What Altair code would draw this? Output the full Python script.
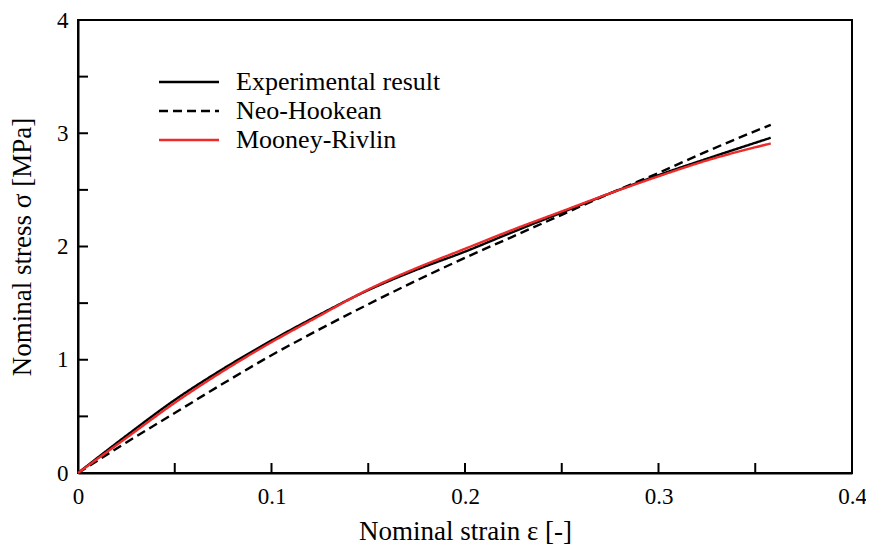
import altair as alt
import pandas as pd

strain = [0, 0.025, 0.05, 0.075, 0.1, 0.125, 0.15, 0.175, 0.2, 0.225, 0.25, 0.275, 0.3, 0.325, 0.358]
experimental = [0, 0.33, 0.645, 0.92, 1.17, 1.40, 1.615, 1.795, 1.955, 2.13, 2.30, 2.47, 2.63, 2.775, 2.96]
neo_hookean = [0, 0.27, 0.53, 0.79, 1.04, 1.27, 1.49, 1.70, 1.90, 2.09, 2.28, 2.47, 2.65, 2.84, 3.075]
mooney_rivlin = [0, 0.31, 0.62, 0.90, 1.155, 1.39, 1.62, 1.81, 1.98, 2.15, 2.31, 2.47, 2.62, 2.76, 2.91]

series_names = ["Experimental result", "Neo-Hookean", "Mooney-Rivlin"]
x_labels = [0, 0.1, 0.2, 0.3, 0.4]
y_labels = [0, 1, 2, 3, 4]
x_ticks = [0.05, 0.1, 0.15, 0.2, 0.25, 0.3, 0.35]
y_ticks = [0.5, 1, 1.5, 2, 2.5, 3, 3.5]

rows = []
for name, vals in zip(series_names, [experimental, neo_hookean, mooney_rivlin]):
    for s, v in zip(strain, vals):
        rows.append({"series": name, "strain": s, "stress": v})
df = pd.DataFrame(rows)

W, H = 774, 453
FONT = "'Liberation Serif', 'Times New Roman', serif"

xscale = alt.Scale(domain=[0, 0.4], nice=False, zero=False)
yscale = alt.Scale(domain=[0, 4], nice=False, zero=False)

xaxis = alt.Axis(values=x_labels, format=".1~f", title="Nominal strain ε [-]", ticks=False,
                 grid=False, domainColor="black", domainWidth=2, labelPadding=12,
                 labelFontSize=23, titleFontSize=27, titlePadding=10, labelColor="black",
                 titleColor="black", labelFont=FONT, titleFont=FONT, titleFontWeight="normal",
                 labelFlush=False)
yaxis = alt.Axis(values=y_labels, format="d", title="Nominal stress σ [MPa]", ticks=False,
                 grid=False, domainColor="black", domainWidth=2, labelPadding=10,
                 labelFontSize=23, titleFontSize=27, titlePadding=20, labelColor="black",
                 titleColor="black", labelFont=FONT, titleFont=FONT, titleFontWeight="normal",
                 labelFlush=False)

color_scale = alt.Scale(domain=series_names, range=["black", "black", "#ee2a2a"])
dash_scale = alt.Scale(domain=series_names, range=[[1, 0], [9, 5], [1, 0]])

leg = alt.Legend(title=None, orient="none", legendX=98, legendY=49, symbolType="M-3,0H3",
                 symbolSize=400, symbolStrokeWidth=2.5, symbolFillColor="transparent",
                 labelFontSize=26, labelFont=FONT, labelLimit=0,
                 labelColor="black", labelOffset=34, rowPadding=3)

lines = alt.Chart(df).mark_line(strokeWidth=2.4, interpolate="monotone").encode(
    x=alt.X("strain:Q", scale=xscale, axis=xaxis),
    y=alt.Y("stress:Q", scale=yscale, axis=yaxis),
    color=alt.Color("series:N", scale=color_scale, legend=leg, sort=series_names),
    strokeDash=alt.StrokeDash("series:N", scale=dash_scale, legend=leg, sort=series_names),
    order=alt.Order("strain:Q"),
)

xt = alt.Chart(pd.DataFrame({"v": x_ticks})).mark_rule(color="black", strokeWidth=2).encode(
    x=alt.X("v:Q", scale=xscale), y=alt.value(H), y2=alt.value(H - 10))
yt = alt.Chart(pd.DataFrame({"v": y_ticks})).mark_rule(color="black", strokeWidth=2).encode(
    y=alt.Y("v:Q", scale=yscale), x=alt.value(0), x2=alt.value(10))

chart = alt.layer(lines, xt, yt).properties(
    width=W, height=H,
    autosize=alt.AutoSizeParams(type="none"),
    padding={"left": 70, "top": 12, "right": 14, "bottom": 73},
).configure(font=FONT).configure_view(stroke="black", strokeWidth=2).configure_legend(
    labelFont=FONT, labelFontSize=26)

chart.save("out.html", embed_options={"renderer": "svg", "actions": False})
